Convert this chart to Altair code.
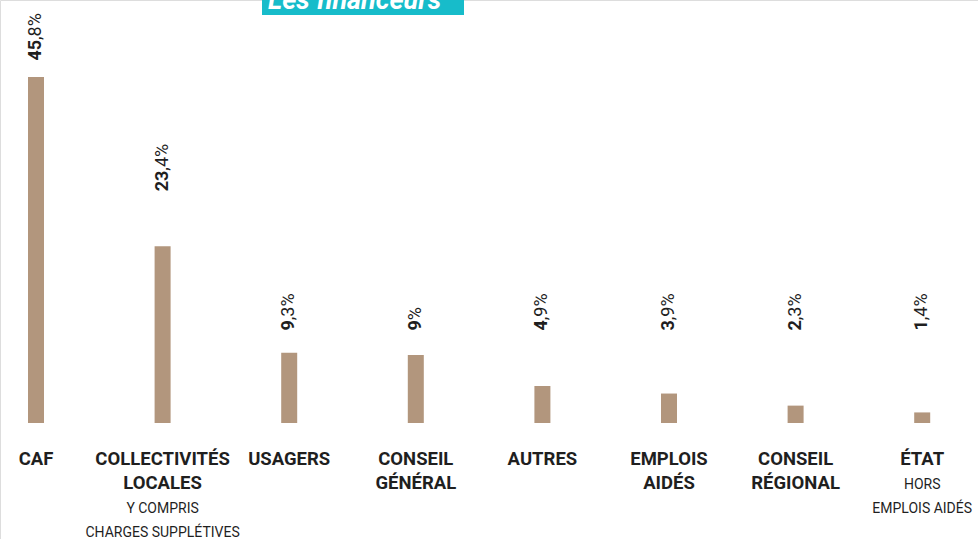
import altair as alt
import pandas as pd

categories = ["CAF", "COLLECTIVITÉS LOCALES", "USAGERS", "CONSEIL GÉNÉRAL",
              "AUTRES", "EMPLOIS AIDÉS", "CONSEIL RÉGIONAL", "ÉTAT"]
values = [45.8, 23.4, 9.3, 9.0, 4.9, 3.9, 2.3, 1.4]
int_parts = ["45", "23", "9", "9", "4", "3", "2", "1"]
dec_parts = [",8%", ",4%", ",3%", "%", ",9%", ",9%", ",3%", ",4%"]
name_lines = [["CAF"], ["COLLECTIVITÉS", "LOCALES"], ["USAGERS"], ["CONSEIL", "GÉNÉRAL"],
              ["AUTRES"], ["EMPLOIS", "AIDÉS"], ["CONSEIL", "RÉGIONAL"], ["ÉTAT"]]
sub_lines = [[], ["Y COMPRIS", "CHARGES SUPPLÉTIVES"], [], [], [], [], [], ["HORS", "EMPLOIS AIDÉS"]]
title_text = "Les financeurs"

FONT = "Roboto"
BAR = "#B2967D"
INK = "#1f1f1f"

W, H = 978, 539
PXU = 7.555  # pixels per percentage point
BASE = 423   # baseline pixel

df = pd.DataFrame({
    "cat": categories,
    "value": values,
    "ip": int_parts,
    "dp": dec_parts,
    "name": name_lines,
    "nl": [len(n) for n in name_lines],
    "ns": [len(s) for s in sub_lines],
    "sub": sub_lines,
})

xs = alt.X("cat:N", sort=categories, axis=None,
           scale=alt.Scale(domain=categories, range=[-27.3, 985.5], paddingInner=0, paddingOuter=0))
ysc = alt.Scale(domain=[-(H - BASE) / PXU, BASE / PXU], nice=False, zero=False)

base = alt.Chart(df)

bars = base.mark_bar(size=16, color=BAR).encode(
    x=xs,
    y=alt.Y("value:Q", scale=ysc, axis=None),
    y2=alt.datum(0),
)

lab = base.transform_calculate(
    lab="datum.value > 40 ? datum.value + 4.9 : (datum.value > 20 ? datum.value + 10 : 13.6)"
)

bold_num = lab.mark_text(angle=270, align="right", baseline="middle", font=FONT,
                         fontWeight="bold", fontSize=18, color=INK).encode(
    x=xs, y=alt.Y("lab:Q", scale=ysc, axis=None), text="ip:N")

reg_num = lab.mark_text(angle=270, align="left", baseline="middle", font=FONT,
                        fontWeight="normal", fontSize=18, color=INK).encode(
    x=xs, y=alt.Y("lab:Q", scale=ysc, axis=None), text="dp:N")

names = base.mark_text(align="center", baseline="alphabetic", dy=42, lineHeight=24,
                       font=FONT, fontWeight="bold", fontSize=18.5, color=INK).encode(
    x=xs, y=alt.datum(0), text="name:N")

subs1 = base.transform_filter("datum.ns > 0 && datum.nl == 1").mark_text(
    align="center", baseline="alphabetic", dy=66, lineHeight=24,
    font=FONT, fontWeight="normal", fontSize=14, color=INK).encode(
    x=xs, y=alt.datum(0), text="sub:N")

subs2 = base.transform_filter("datum.ns > 0 && datum.nl == 2").mark_text(
    align="center", baseline="alphabetic", dy=90, lineHeight=24,
    font=FONT, fontWeight="normal", fontSize=14, color=INK).encode(
    x=xs, y=alt.datum(0), text="sub:N")

tdf = pd.DataFrame({"t": [title_text]})
tbox = alt.Chart(tdf).mark_rect(color="#17BCCA").encode(
    x=alt.value(262), x2=alt.value(464), y=alt.value(0), y2=alt.value(15))
ttext = alt.Chart(tdf).mark_text(align="left", baseline="alphabetic", font=FONT,
                                 fontWeight="bold", fontStyle="italic", fontSize=27,
                                 color="white").encode(
    x=alt.value(268), y=alt.value(9), text="t:N")

chart = alt.layer(bars, bold_num, reg_num, names, subs1, subs2, tbox, ttext).properties(
    width=W, height=H,
    autosize=alt.AutoSizeParams(type="none"),
    padding=0,
).configure_view(stroke=None).configure(background="white")

chart.save("out.html", embed_options={"renderer": "svg", "actions": False})
